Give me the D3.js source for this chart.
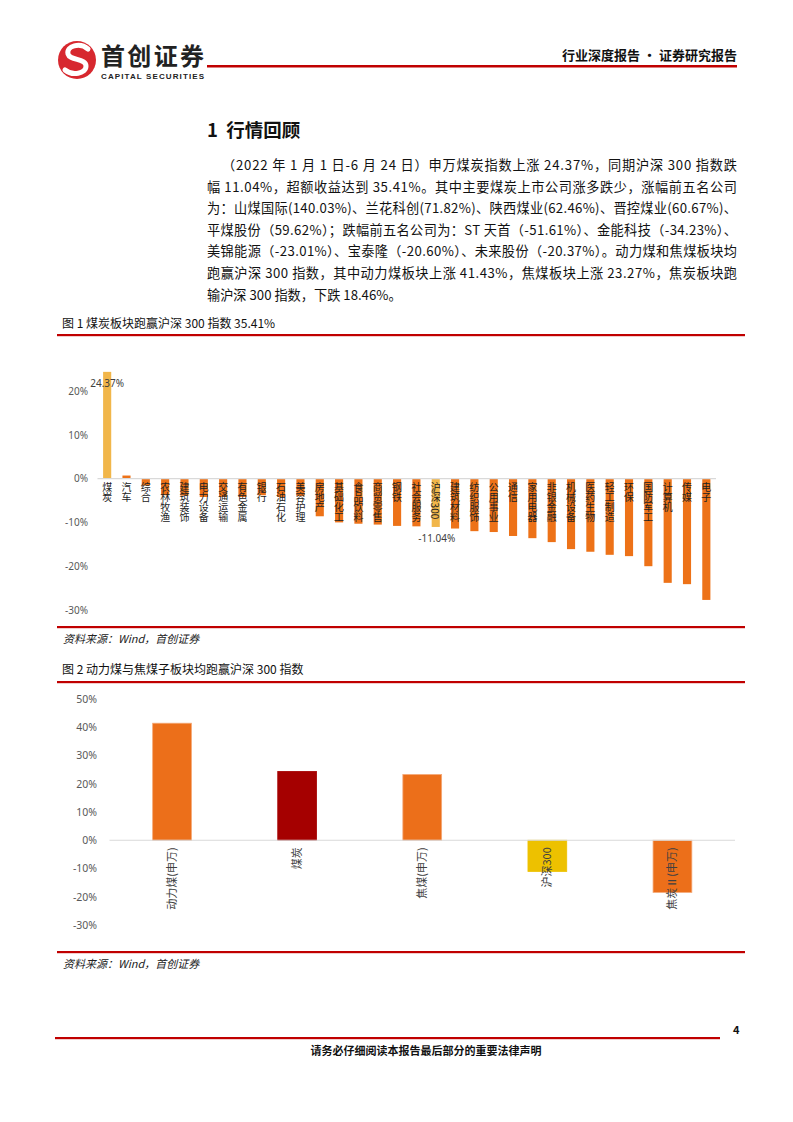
<!DOCTYPE html>
<html><head><meta charset="utf-8">
<script src="https://cdn.jsdelivr.net/npm/d3@7"></script>
<style>
body{margin:0;background:#fff;}
svg{display:block;font-family:"Noto Sans CJK SC","Noto Sans",sans-serif;}
</style></head>
<body>
<svg id="page" width="793" height="1122"></svg>
<script>
// ---------- data ----------
const sectors1 = ["煤炭","汽车","综合","农林牧渔","建筑装饰","电力设备","交通运输","有色金属","银行","石油石化","美容护理","房地产","基础化工","食品饮料","商贸零售","钢铁","社会服务","沪深300","建筑材料","纺织服饰","公用事业","通信","家用电器","非银金融","机械设备","医药生物","轻工制造","环保","国防军工","计算机","传媒","电子"];
const returns1 = [24.37,0.7,-1.6,-3.8,-3.9,-4.2,-4.2,-4.2,-3.8,-4.2,-4.0,-8.6,-10.0,-10.3,-10.5,-10.8,-10.9,-11.04,-11.4,-12.0,-12.2,-13.1,-13.6,-14.5,-16.1,-16.7,-17.4,-17.7,-20.0,-23.8,-24.1,-27.7];
const ticks1 = [20,10,0,-10,-20,-30];

const sectors2 = ["动力煤(申万)","煤炭","焦煤(申万)","沪深300","焦炭Ⅱ(申万)"];
const returns2 = [41.43,24.37,23.27,-11.04,-18.46];
const ticks2 = [50,40,30,20,10,0,-10,-20,-30];

const paraLines = [
 "（2022 年 1 月 1 日-6 月 24 日）申万煤炭指数上涨 24.37%，同期沪深 300 指数跌",
 "幅 11.04%，超额收益达到 35.41%。其中主要煤炭上市公司涨多跌少，涨幅前五名公司",
 "为：山煤国际(140.03%)、兰花科创(71.82%)、陕西煤业(62.46%)、晋控煤业(60.67%)、",
 "平煤股份（59.62%）；跌幅前五名公司为：ST 天首（-51.61%）、金能科技（-34.23%）、",
 "美锦能源（-23.01%）、宝泰隆（-20.60%）、未来股份（-20.37%）。动力煤和焦煤板块均",
 "跑赢沪深 300 指数，其中动力煤板块上涨 41.43%，焦煤板块上涨 23.27%，焦炭板块跑",
 "输沪深 300 指数，下跌 18.46%。"
];

// ---------- page ----------
const svg = d3.select("#page");
const RED = "#C00000";

// logo
const logo = svg.append("g");
logo.append("circle").attr("cx",77).attr("cy",60).attr("r",19).attr("fill","#D7282F");
logo.append("path").attr("d","M88,49 C80,42 66,46 68,54 C70,61 86,58 86,66 C86,74 72,76 65,70")
  .attr("fill","none").attr("stroke","#fff").attr("stroke-width",5).attr("stroke-linecap","round");
svg.append("text").attr("x",101).attr("y",65).attr("font-size",24).attr("font-weight",700).attr("fill","#222")
  .attr("textLength",103).attr("lengthAdjust","spacing").text("首创证券");
svg.append("text").attr("x",101).attr("y",79).attr("font-size",8).attr("font-weight",700).attr("fill","#222")
  .attr("font-family","Liberation Sans, Arial, sans-serif").attr("textLength",103).attr("lengthAdjust","spacing").text("CAPITAL SECURITIES");
svg.append("rect").attr("x",207).attr("y",65).attr("width",530).attr("height",2.5).attr("fill",RED);
svg.append("text").attr("x",737).attr("y",60).attr("text-anchor","end").attr("font-size",13).attr("font-weight",700).attr("fill","#111").text("行业深度报告 · 证券研究报告");

// heading
svg.append("text").attr("x",207).attr("y",137).attr("font-size",18.5).attr("font-weight",700).attr("fill","#111").attr("xml:space","preserve").text("1  行情回顾");

// paragraph
paraLines.forEach((t,i)=>{
  const x0 = i===0 ? 222 : 207;
  const tx = svg.append("text").attr("x",x0).attr("y",170+i*21.6).attr("font-size",13.2).attr("fill","#111").text(t);
  if(i < paraLines.length-1) tx.attr("textLength",737-x0).attr("lengthAdjust","spacing");
});

// captions and rules
function caption(y,t){ svg.append("text").attr("x",62).attr("y",y).attr("font-size",12).attr("fill","#111").text(t); }
function rule(y,x0=57,x1=745){ svg.append("rect").attr("x",x0).attr("y",y).attr("width",x1-x0).attr("height",2.2).attr("fill",RED); }
function source(y){ svg.append("text").attr("x",63).attr("y",y).attr("font-size",11).attr("font-style","italic").attr("fill","#222").text("资料来源：Wind，首创证券"); }

caption(328,"图 1 煤炭板块跑赢沪深 300 指数 35.41%");
rule(334);
rule(626);
source(643);
caption(674,"图 2 动力煤与焦煤子板块均跑赢沪深 300 指数");
rule(681);
rule(951);
source(968);

// ---------- chart 1 ----------
{
  const x = d3.scaleBand().domain(sectors1).range([97.5,716]).paddingInner(0.58).paddingOuter(0.29);
  const y = d3.scaleLinear().domain([-30,20]).range([610,391]);
  const g = svg.append("g");
  g.append("g").attr("transform","translate(96,0)")
    .call(d3.axisLeft(y).tickValues(ticks1).tickSize(0).tickPadding(8).tickFormat(d=>d+"%"))
    .call(a=>a.select(".domain").remove())
    .call(a=>a.selectAll("text").attr("font-size",10).attr("fill","#595959").attr("font-family","Noto Sans, sans-serif"));
  g.selectAll("rect.bar").data(sectors1).join("rect").attr("class","bar")
    .attr("x",d=>x(d)).attr("width",x.bandwidth())
    .attr("y",(d,i)=>Math.min(y(returns1[i]),y(0)))
    .attr("height",(d,i)=>Math.abs(y(returns1[i])-y(0)))
    .attr("fill",d=>(d==="煤炭"||d==="沪深300")?"#F1B64A":"#ED7218");
  g.append("line").attr("x1",97.5).attr("x2",716).attr("y1",y(0)).attr("y2",y(0)).attr("stroke","#D9D9D9").attr("stroke-width",1.2);
  g.selectAll("text.lab").data(sectors1).join("text").attr("class","lab")
    .attr("x",d=>x(d)+x.bandwidth()/2).attr("y",y(0)+4)
    .style("writing-mode","vertical-rl").style("text-orientation","mixed")
    .attr("font-size",10).attr("fill","#222").text(d=>d);
  g.append("text").attr("x",x("煤炭")+x.bandwidth()/2).attr("y",y(24.37)+15).attr("text-anchor","middle")
    .attr("font-size",10).attr("fill","#404040").attr("font-family","Noto Sans, sans-serif").text("24.37%");
  g.append("text").attr("x",x("沪深300")+x.bandwidth()/2+1).attr("y",y(-11.04)+15).attr("text-anchor","middle")
    .attr("font-size",10).attr("fill","#404040").attr("font-family","Noto Sans, sans-serif").text("-11.04%");
}

// ---------- chart 2 ----------
{
  const x = d3.scaleBand().domain(sectors2).range([109.5,735]).paddingInner(0.69).paddingOuter(0.345);
  const y = d3.scaleLinear().domain([-30,50]).range([925,699]);
  const colors = ["#EC6F1A","#A50000","#EC6F1A","#EDC100","#EC6F1A"];
  const strokes = ["#F4A877","#A50000","#F4A877","#EDC100","#F4A877"];
  const g = svg.append("g");
  g.append("g").attr("transform","translate(105,0)")
    .call(d3.axisLeft(y).tickValues(ticks2).tickSize(0).tickPadding(8).tickFormat(d=>d+"%"))
    .call(a=>a.select(".domain").remove())
    .call(a=>a.selectAll("text").attr("font-size",10.5).attr("fill","#595959").attr("font-family","Noto Sans, sans-serif"));
  g.selectAll("rect.bar").data(sectors2).join("rect").attr("class","bar")
    .attr("x",d=>x(d)).attr("width",x.bandwidth())
    .attr("y",(d,i)=>Math.min(y(returns2[i]),y(0)))
    .attr("height",(d,i)=>Math.abs(y(returns2[i])-y(0)))
    .attr("fill",(d,i)=>colors[i]).attr("stroke",(d,i)=>strokes[i]).attr("stroke-width",0.8);
  g.append("line").attr("x1",109.5).attr("x2",735).attr("y1",y(0)).attr("y2",y(0)).attr("stroke","#D9D9D9").attr("stroke-width",1.2);
  g.selectAll("text.lab").data(sectors2).join("text").attr("class","lab")
    .attr("transform",d=>`translate(${x(d)+x.bandwidth()/2+4},${y(0)+7}) rotate(-90)`)
    .attr("text-anchor","end").attr("font-size",11).attr("fill","#404040").text(d=>d);
}

// footer
svg.append("text").attr("x",733).attr("y",1034).attr("font-size",11).attr("font-weight",700).attr("fill","#111").text("4");
svg.append("rect").attr("x",55).attr("y",1037).attr("width",665).attr("height",2.2).attr("fill",RED);
svg.append("text").attr("x",426).attr("y",1055).attr("text-anchor","middle").attr("font-size",11).attr("font-weight",700).attr("fill","#111").text("请务必仔细阅读本报告最后部分的重要法律声明");
</script>
</body></html>
